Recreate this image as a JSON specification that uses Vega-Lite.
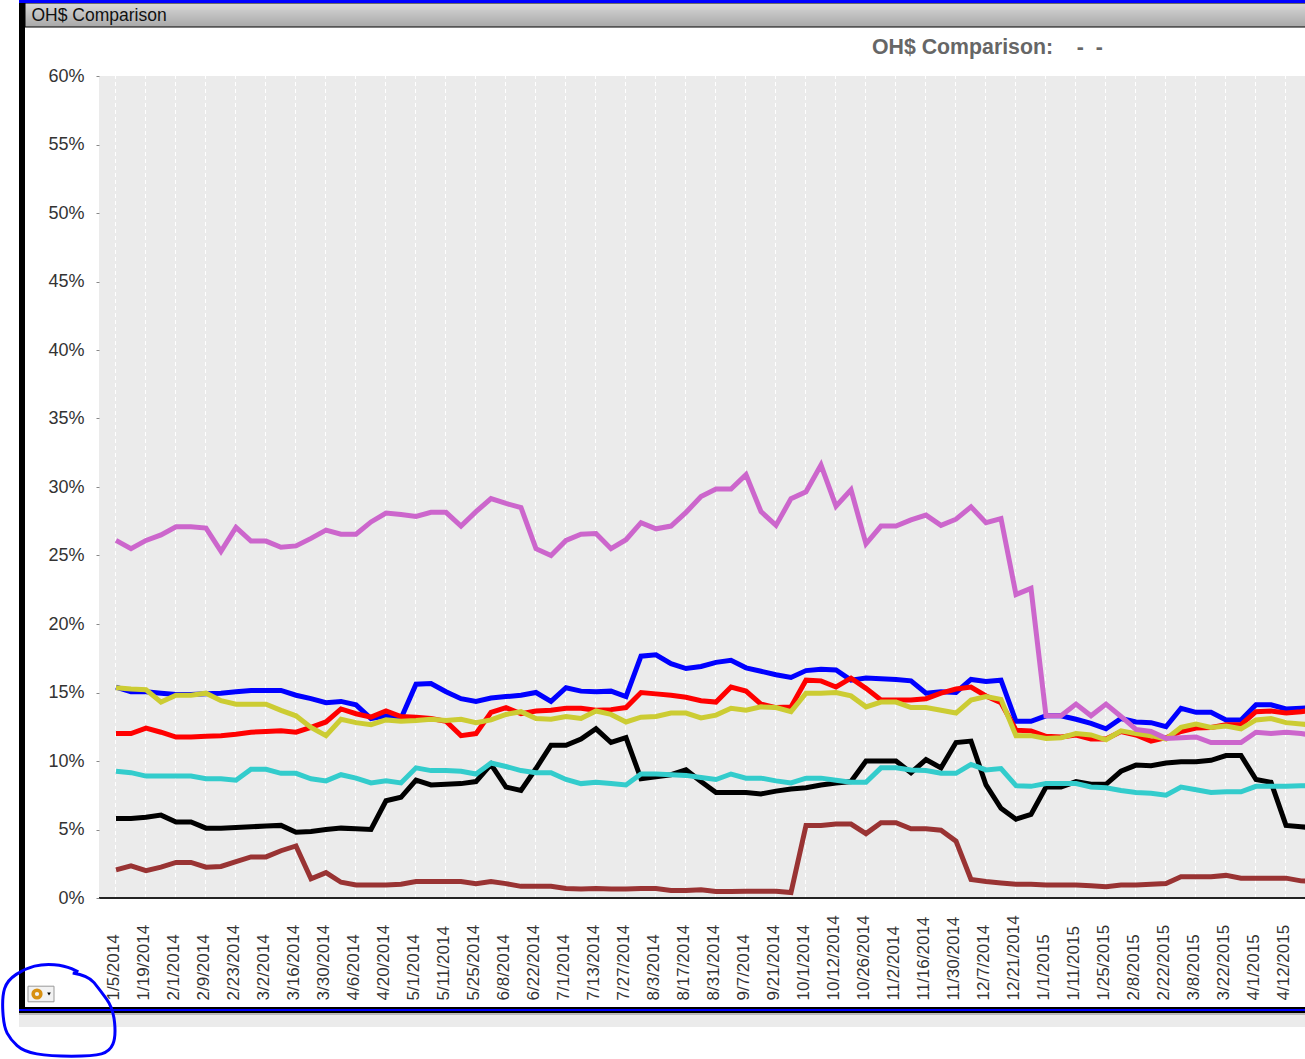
{
"$schema":"https://vega.github.io/schema/vega-lite/v6.json",
"autosize":{"type":"none"},
"padding":{"left":22,"top":27,"right":0,"bottom":49},
"width":1283,
"height":983,
"background":"white",
"view":{"stroke":null,"fill":"white"},
"title":{"text":"OH$ Comparison:\u00a0\u00a0\u00a0\u00a0-\u00a0\u00a0-","anchor":"start","frame":"group","dx":850,"dy":30,"offset":-28,"font":"Liberation Sans","fontSize":21.3,"fontWeight":"bold","color":"#666666"},
"datasets":{
"ends":[{"first":"1/5/2014","last":"4/26/2015","base":0,"top":60}],
"gridDates":[{"d":"1/5/2014"},{"d":"1/19/2014"},{"d":"2/1/2014"},{"d":"2/9/2014"},{"d":"2/23/2014"},{"d":"3/2/2014"},{"d":"3/16/2014"},{"d":"3/30/2014"},{"d":"4/6/2014"},{"d":"4/20/2014"},{"d":"5/1/2014"},{"d":"5/11/2014"},{"d":"5/25/2014"},{"d":"6/8/2014"},{"d":"6/22/2014"},{"d":"7/1/2014"},{"d":"7/13/2014"},{"d":"7/27/2014"},{"d":"8/3/2014"},{"d":"8/17/2014"},{"d":"8/31/2014"},{"d":"9/7/2014"},{"d":"9/21/2014"},{"d":"10/1/2014"},{"d":"10/12/2014"},{"d":"10/26/2014"},{"d":"11/2/2014"},{"d":"11/16/2014"},{"d":"11/30/2014"},{"d":"12/7/2014"},{"d":"12/21/2014"},{"d":"1/1/2015"},{"d":"1/11/2015"},{"d":"1/25/2015"},{"d":"2/8/2015"},{"d":"2/22/2015"},{"d":"3/8/2015"},{"d":"3/22/2015"},{"d":"4/1/2015"},{"d":"4/12/2015"},{"d":"4/26/2015"}],
"series":[
{"d":"1/5/2014","Black":5.8,"Brown":2.05,"Blue":15.4,"Red":12.0,"Teal":9.25,"Yellow":15.35,"Magenta":26.1},
{"d":"1/12/2014","Black":5.8,"Brown":2.35,"Blue":15.05,"Red":12.0,"Teal":9.15,"Yellow":15.25,"Magenta":25.5},
{"d":"1/19/2014","Black":5.9,"Brown":2.0,"Blue":15.05,"Red":12.4,"Teal":8.9,"Yellow":15.2,"Magenta":26.1},
{"d":"1/26/2014","Black":6.05,"Brown":2.25,"Blue":14.95,"Red":12.1,"Teal":8.9,"Yellow":14.3,"Magenta":26.5},
{"d":"2/1/2014","Black":5.55,"Brown":2.6,"Blue":14.85,"Red":11.75,"Teal":8.9,"Yellow":14.8,"Magenta":27.1},
{"d":"2/2/2014","Black":5.55,"Brown":2.6,"Blue":14.85,"Red":11.75,"Teal":8.9,"Yellow":14.8,"Magenta":27.1},
{"d":"2/9/2014","Black":5.1,"Brown":2.25,"Blue":14.9,"Red":11.8,"Teal":8.7,"Yellow":14.95,"Magenta":27.0},
{"d":"2/16/2014","Black":5.1,"Brown":2.3,"Blue":14.95,"Red":11.85,"Teal":8.7,"Yellow":14.4,"Magenta":25.3},
{"d":"2/23/2014","Black":5.15,"Brown":2.65,"Blue":15.05,"Red":11.95,"Teal":8.6,"Yellow":14.15,"Magenta":27.05},
{"d":"3/1/2014","Black":5.2,"Brown":3.0,"Blue":15.15,"Red":12.1,"Teal":9.4,"Yellow":14.15,"Magenta":26.05},
{"d":"3/2/2014","Black":5.25,"Brown":3.0,"Blue":15.15,"Red":12.15,"Teal":9.4,"Yellow":14.15,"Magenta":26.05},
{"d":"3/9/2014","Black":5.3,"Brown":3.45,"Blue":15.15,"Red":12.2,"Teal":9.1,"Yellow":13.7,"Magenta":25.6},
{"d":"3/16/2014","Black":4.8,"Brown":3.8,"Blue":14.8,"Red":12.1,"Teal":9.1,"Yellow":13.3,"Magenta":25.7},
{"d":"3/23/2014","Black":4.85,"Brown":1.4,"Blue":14.55,"Red":12.45,"Teal":8.7,"Yellow":12.45,"Magenta":26.25},
{"d":"3/30/2014","Black":5.0,"Brown":1.85,"Blue":14.25,"Red":12.85,"Teal":8.55,"Yellow":11.85,"Magenta":26.85},
{"d":"4/1/2014","Black":5.1,"Brown":1.15,"Blue":14.35,"Red":13.8,"Teal":9.0,"Yellow":13.05,"Magenta":26.55},
{"d":"4/6/2014","Black":5.05,"Brown":0.95,"Blue":14.1,"Red":13.45,"Teal":8.75,"Yellow":12.8,"Magenta":26.55},
{"d":"4/13/2014","Black":5.0,"Brown":0.95,"Blue":13.1,"Red":13.2,"Teal":8.4,"Yellow":12.65,"Magenta":27.45},
{"d":"4/20/2014","Black":7.1,"Brown":0.95,"Blue":13.3,"Red":13.65,"Teal":8.55,"Yellow":13.0,"Magenta":28.1},
{"d":"4/27/2014","Black":7.35,"Brown":1.0,"Blue":13.1,"Red":13.25,"Teal":8.4,"Yellow":12.9,"Magenta":28.0},
{"d":"5/1/2014","Black":8.6,"Brown":1.2,"Blue":15.6,"Red":13.2,"Teal":9.5,"Yellow":12.95,"Magenta":27.85},
{"d":"5/4/2014","Black":8.25,"Brown":1.2,"Blue":15.65,"Red":13.1,"Teal":9.3,"Yellow":13.05,"Magenta":28.15},
{"d":"5/11/2014","Black":8.3,"Brown":1.2,"Blue":15.05,"Red":12.9,"Teal":9.3,"Yellow":12.95,"Magenta":28.15},
{"d":"5/18/2014","Black":8.35,"Brown":1.2,"Blue":14.55,"Red":11.85,"Teal":9.25,"Yellow":13.05,"Magenta":27.15},
{"d":"5/25/2014","Black":8.5,"Brown":1.05,"Blue":14.35,"Red":12.0,"Teal":9.05,"Yellow":12.8,"Magenta":28.2},
{"d":"6/1/2014","Black":9.75,"Brown":1.2,"Blue":14.6,"Red":13.55,"Teal":9.85,"Yellow":13.0,"Magenta":29.15},
{"d":"6/8/2014","Black":8.1,"Brown":1.05,"Blue":14.7,"Red":13.9,"Teal":9.6,"Yellow":13.4,"Magenta":28.8},
{"d":"6/15/2014","Black":7.85,"Brown":0.85,"Blue":14.8,"Red":13.45,"Teal":9.3,"Yellow":13.6,"Magenta":28.5},
{"d":"6/22/2014","Black":9.45,"Brown":0.85,"Blue":15.0,"Red":13.65,"Teal":9.15,"Yellow":13.1,"Magenta":25.5},
{"d":"6/29/2014","Black":11.15,"Brown":0.85,"Blue":14.35,"Red":13.7,"Teal":9.15,"Yellow":13.05,"Magenta":25.0},
{"d":"7/1/2014","Black":11.15,"Brown":0.7,"Blue":15.35,"Red":13.85,"Teal":8.65,"Yellow":13.25,"Magenta":26.1},
{"d":"7/6/2014","Black":11.6,"Brown":0.65,"Blue":15.1,"Red":13.85,"Teal":8.35,"Yellow":13.1,"Magenta":26.55},
{"d":"7/13/2014","Black":12.35,"Brown":0.7,"Blue":15.05,"Red":13.7,"Teal":8.45,"Yellow":13.65,"Magenta":26.6},
{"d":"7/20/2014","Black":11.35,"Brown":0.65,"Blue":15.1,"Red":13.75,"Teal":8.35,"Yellow":13.4,"Magenta":25.5},
{"d":"7/27/2014","Black":11.7,"Brown":0.65,"Blue":14.7,"Red":13.9,"Teal":8.25,"Yellow":12.85,"Magenta":26.15},
{"d":"8/1/2014","Black":8.7,"Brown":0.7,"Blue":17.65,"Red":15.0,"Teal":9.05,"Yellow":13.2,"Magenta":27.4},
{"d":"8/3/2014","Black":8.85,"Brown":0.7,"Blue":17.75,"Red":14.9,"Teal":9.05,"Yellow":13.25,"Magenta":26.95},
{"d":"8/10/2014","Black":9.0,"Brown":0.55,"Blue":17.1,"Red":14.8,"Teal":9.0,"Yellow":13.5,"Magenta":27.15},
{"d":"8/17/2014","Black":9.35,"Brown":0.55,"Blue":16.75,"Red":14.65,"Teal":8.95,"Yellow":13.5,"Magenta":28.15},
{"d":"8/24/2014","Black":8.5,"Brown":0.6,"Blue":16.9,"Red":14.4,"Teal":8.8,"Yellow":13.15,"Magenta":29.3},
{"d":"8/31/2014","Black":7.7,"Brown":0.47,"Blue":17.2,"Red":14.3,"Teal":8.65,"Yellow":13.35,"Magenta":29.85},
{"d":"9/1/2014","Black":7.7,"Brown":0.47,"Blue":17.35,"Red":15.4,"Teal":9.05,"Yellow":13.85,"Magenta":29.85},
{"d":"9/7/2014","Black":7.7,"Brown":0.5,"Blue":16.8,"Red":15.1,"Teal":8.75,"Yellow":13.7,"Magenta":30.9},
{"d":"9/14/2014","Black":7.6,"Brown":0.5,"Blue":16.55,"Red":14.15,"Teal":8.75,"Yellow":13.95,"Magenta":28.2},
{"d":"9/21/2014","Black":7.8,"Brown":0.5,"Blue":16.3,"Red":13.9,"Teal":8.55,"Yellow":13.9,"Magenta":27.2},
{"d":"9/28/2014","Black":7.95,"Brown":0.4,"Blue":16.1,"Red":13.95,"Teal":8.4,"Yellow":13.6,"Magenta":29.15},
{"d":"10/1/2014","Black":8.05,"Brown":5.3,"Blue":16.6,"Red":15.9,"Teal":8.75,"Yellow":14.95,"Magenta":29.65},
{"d":"10/5/2014","Black":8.25,"Brown":5.3,"Blue":16.7,"Red":15.85,"Teal":8.75,"Yellow":14.95,"Magenta":31.6},
{"d":"10/12/2014","Black":8.4,"Brown":5.4,"Blue":16.65,"Red":15.4,"Teal":8.6,"Yellow":15.0,"Magenta":28.6},
{"d":"10/19/2014","Black":8.5,"Brown":5.4,"Blue":15.9,"Red":16.05,"Teal":8.45,"Yellow":14.75,"Magenta":29.8},
{"d":"10/26/2014","Black":10.0,"Brown":4.7,"Blue":16.05,"Red":15.3,"Teal":8.45,"Yellow":13.95,"Magenta":25.85},
{"d":"11/1/2014","Black":10.0,"Brown":5.5,"Blue":16.0,"Red":14.45,"Teal":9.5,"Yellow":14.3,"Magenta":27.15},
{"d":"11/2/2014","Black":10.0,"Brown":5.5,"Blue":15.95,"Red":14.45,"Teal":9.5,"Yellow":14.3,"Magenta":27.15},
{"d":"11/9/2014","Black":9.15,"Brown":5.05,"Blue":15.85,"Red":14.45,"Teal":9.35,"Yellow":13.9,"Magenta":27.6},
{"d":"11/16/2014","Black":10.1,"Brown":5.05,"Blue":14.95,"Red":14.55,"Teal":9.3,"Yellow":13.9,"Magenta":27.95},
{"d":"11/23/2014","Black":9.5,"Brown":4.95,"Blue":15.05,"Red":14.95,"Teal":9.1,"Yellow":13.7,"Magenta":27.2},
{"d":"11/30/2014","Black":11.35,"Brown":4.15,"Blue":15.0,"Red":15.25,"Teal":9.1,"Yellow":13.5,"Magenta":27.65},
{"d":"12/1/2014","Black":11.45,"Brown":1.35,"Blue":15.95,"Red":15.4,"Teal":9.75,"Yellow":14.45,"Magenta":28.55},
{"d":"12/7/2014","Black":8.25,"Brown":1.2,"Blue":15.8,"Red":14.75,"Teal":9.35,"Yellow":14.7,"Magenta":27.4},
{"d":"12/14/2014","Black":6.55,"Brown":1.1,"Blue":15.9,"Red":14.25,"Teal":9.45,"Yellow":14.5,"Magenta":27.7},
{"d":"12/21/2014","Black":5.75,"Brown":1.0,"Blue":12.9,"Red":12.25,"Teal":8.2,"Yellow":11.85,"Magenta":22.15},
{"d":"12/28/2014","Black":6.1,"Brown":1.0,"Blue":12.9,"Red":12.2,"Teal":8.15,"Yellow":11.85,"Magenta":22.6},
{"d":"1/1/2015","Black":8.1,"Brown":0.95,"Blue":13.3,"Red":11.8,"Teal":8.35,"Yellow":11.65,"Magenta":13.3},
{"d":"1/4/2015","Black":8.1,"Brown":0.95,"Blue":13.3,"Red":11.75,"Teal":8.35,"Yellow":11.7,"Magenta":13.3},
{"d":"1/11/2015","Black":8.5,"Brown":0.95,"Blue":13.05,"Red":11.9,"Teal":8.35,"Yellow":12.0,"Magenta":14.15},
{"d":"1/18/2015","Black":8.3,"Brown":0.9,"Blue":12.75,"Red":11.6,"Teal":8.1,"Yellow":11.9,"Magenta":13.3},
{"d":"1/25/2015","Black":8.3,"Brown":0.83,"Blue":12.35,"Red":11.6,"Teal":8.05,"Yellow":11.55,"Magenta":14.15},
{"d":"2/1/2015","Black":9.25,"Brown":0.95,"Blue":13.1,"Red":12.15,"Teal":7.85,"Yellow":12.2,"Magenta":13.25},
{"d":"2/8/2015","Black":9.7,"Brown":0.95,"Blue":12.85,"Red":11.9,"Teal":7.7,"Yellow":12.0,"Magenta":12.3},
{"d":"2/15/2015","Black":9.65,"Brown":1.0,"Blue":12.8,"Red":11.45,"Teal":7.65,"Yellow":11.85,"Magenta":12.15},
{"d":"2/22/2015","Black":9.85,"Brown":1.05,"Blue":12.5,"Red":11.7,"Teal":7.5,"Yellow":11.6,"Magenta":11.65},
{"d":"3/1/2015","Black":9.95,"Brown":1.55,"Blue":13.85,"Red":12.15,"Teal":8.1,"Yellow":12.45,"Magenta":11.7},
{"d":"3/8/2015","Black":9.95,"Brown":1.55,"Blue":13.55,"Red":12.4,"Teal":7.9,"Yellow":12.7,"Magenta":11.75},
{"d":"3/15/2015","Black":10.05,"Brown":1.55,"Blue":13.55,"Red":12.45,"Teal":7.7,"Yellow":12.45,"Magenta":11.35},
{"d":"3/22/2015","Black":10.4,"Brown":1.65,"Blue":13.0,"Red":12.65,"Teal":7.75,"Yellow":12.55,"Magenta":11.35},
{"d":"3/29/2015","Black":10.4,"Brown":1.45,"Blue":13.0,"Red":12.65,"Teal":7.75,"Yellow":12.35,"Magenta":11.35},
{"d":"4/1/2015","Black":8.65,"Brown":1.45,"Blue":14.1,"Red":13.6,"Teal":8.15,"Yellow":13.0,"Magenta":12.1},
{"d":"4/5/2015","Black":8.45,"Brown":1.45,"Blue":14.1,"Red":13.65,"Teal":8.15,"Yellow":13.1,"Magenta":12.0},
{"d":"4/12/2015","Black":5.3,"Brown":1.45,"Blue":13.8,"Red":13.5,"Teal":8.15,"Yellow":12.8,"Magenta":12.1},
{"d":"4/19/2015","Black":5.2,"Brown":1.25,"Blue":13.85,"Red":13.6,"Teal":8.2,"Yellow":12.7,"Magenta":12.0},
{"d":"4/26/2015","Black":5.1,"Brown":1.2,"Blue":13.9,"Red":13.75,"Teal":8.2,"Yellow":12.6,"Magenta":11.85}
]},
"encoding":{
"x":{"field":"d","type":"ordinal","sort":null,
 "scale":{"type":"point","padding":0,"range":[94,1294],"domain":["1/5/2014","1/12/2014","1/19/2014","1/26/2014","2/1/2014","2/2/2014","2/9/2014","2/16/2014","2/23/2014","3/1/2014","3/2/2014","3/9/2014","3/16/2014","3/23/2014","3/30/2014","4/1/2014","4/6/2014","4/13/2014","4/20/2014","4/27/2014","5/1/2014","5/4/2014","5/11/2014","5/18/2014","5/25/2014","6/1/2014","6/8/2014","6/15/2014","6/22/2014","6/29/2014","7/1/2014","7/6/2014","7/13/2014","7/20/2014","7/27/2014","8/1/2014","8/3/2014","8/10/2014","8/17/2014","8/24/2014","8/31/2014","9/1/2014","9/7/2014","9/14/2014","9/21/2014","9/28/2014","10/1/2014","10/5/2014","10/12/2014","10/19/2014","10/26/2014","11/1/2014","11/2/2014","11/9/2014","11/16/2014","11/23/2014","11/30/2014","12/1/2014","12/7/2014","12/14/2014","12/21/2014","12/28/2014","1/1/2015","1/4/2015","1/11/2015","1/18/2015","1/25/2015","2/1/2015","2/8/2015","2/15/2015","2/22/2015","3/1/2015","3/8/2015","3/15/2015","3/22/2015","3/29/2015","4/1/2015","4/5/2015","4/12/2015","4/19/2015","4/26/2015"]},
 "axis":{"title":"OH$ Comparison","titleX":9,"titleY":-1004,"titleAlign":"left","titleAngle":0,"titleFont":"Liberation Sans","titleFontSize":17.5,"titleFontWeight":"normal","titleColor":"#111111",
  "zindex":2,"domain":false,"ticks":false,"grid":false,"tickSize":0,
  "values":["1/5/2014","1/19/2014","2/1/2014","2/9/2014","2/23/2014","3/2/2014","3/16/2014","3/30/2014","4/6/2014","4/20/2014","5/1/2014","5/11/2014","5/25/2014","6/8/2014","6/22/2014","7/1/2014","7/13/2014","7/27/2014","8/3/2014","8/17/2014","8/31/2014","9/7/2014","9/21/2014","10/1/2014","10/12/2014","10/26/2014","11/2/2014","11/16/2014","11/30/2014","12/7/2014","12/21/2014","1/1/2015","1/11/2015","1/25/2015","2/8/2015","2/22/2015","3/8/2015","3/22/2015","4/1/2015","4/12/2015","4/26/2015"],
  "labelAngle":-90,"labelAlign":"left","labelBaseline":"middle","labelPadding":-10,"labelOffset":-3,"labelOverlap":false,"labelBound":false,"labelFlush":false,"labelFont":"Liberation Sans","labelFontSize":17,"labelColor":"#333333"}}
},
"layer":[
{"data":{"name":"ends"},"mark":{"type":"rect","fill":"#ebebeb","xOffset":-17},
 "encoding":{"x":{"field":"first","type":"ordinal"},"x2":{"field":"last"},
  "y":{"field":"base","type":"quantitative"},"y2":{"field":"top"}}},
{"data":{"name":"gridDates"},"mark":{"type":"rule","color":"#ffffff","strokeWidth":1,"strokeDash":[4,3],"xOffset":-0.5},
 "encoding":{"x":{"field":"d","type":"ordinal"},"y":{"datum":0,"type":"quantitative"},"y2":{"datum":60}}},
{"data":{"name":"ends"},"mark":{"type":"rect","fill":"#222222","height":2,"xOffset":-17},
 "encoding":{"x":{"field":"first","type":"ordinal"},"x2":{"field":"last"},"y":{"field":"base","type":"quantitative"}}},
{"data":{"name":"series"},
 "transform":[{"fold":["Black","Brown","Blue","Red","Teal","Yellow","Magenta"],"as":["series","value"]}],
 "mark":{"type":"line","strokeWidth":5,"clip":false},
 "encoding":{
  "y":{"field":"value","type":"quantitative",
   "scale":{"domain":[0,60],"range":[871,49]},
   "axis":{"title":null,"offset":-77,"zindex":2,"domain":false,"grid":false,"values":[0,5,10,15,20,25,30,35,40,45,50,55,60],"labelExpr":"datum.value + '%'","tickSize":3,"tickColor":"#888888","labelPadding":12,"labelFont":"Liberation Sans","labelFontSize":18,"labelColor":"#333333"}},
  "color":{"field":"series","type":"nominal","sort":null,"legend":null,
   "scale":{"domain":["Black","Brown","Blue","Red","Teal","Yellow","Magenta"],"range":["#000000","#993333","#0000ff","#ff0000","#33cccc","#cccc33","#cc66cc"]}}}},
{"data":{"name":"ends"},"mark":{"type":"rect","stroke":"#000000","strokeWidth":1,"xOffset":-91,"yOffset":-73,"y2Offset":-49,"fill":{"x1":0,"y1":0,"x2":0,"y2":1,"gradient":"linear","stops":[{"offset":0,"color":"#d8d8d8"},{"offset":1,"color":"#a8a8a8"}]}},
 "encoding":{"x":{"field":"first","type":"ordinal"},"x2":{"field":"last"},"y":{"field":"top","type":"quantitative"},"y2":{"field":"top"}}},
{"data":{"name":"ends"},"mark":{"type":"rect","fill":"#000000","xOffset":-97,"x2Offset":-91,"yOffset":-76,"y2Offset":115},
 "encoding":{"x":{"field":"first","type":"ordinal"},"x2":{"field":"first"},"y":{"field":"top","type":"quantitative"},"y2":{"field":"base"}}},
{"data":{"name":"ends"},"mark":{"type":"rect","fill":"#000000","xOffset":-97,"yOffset":109,"y2Offset":115},
 "encoding":{"x":{"field":"first","type":"ordinal"},"x2":{"field":"last"},"y":{"field":"base","type":"quantitative"},"y2":{"field":"base"}}},
{"data":{"name":"ends"},"mark":{"type":"rect","fill":"#0000ff","xOffset":-97,"yOffset":-76,"y2Offset":-73},
 "encoding":{"x":{"field":"first","type":"ordinal"},"x2":{"field":"last"},"y":{"field":"top","type":"quantitative"},"y2":{"field":"top"}}},
{"data":{"name":"ends"},"mark":{"type":"rect","fill":"#0000ff","xOffset":-97,"yOffset":111,"y2Offset":113},
 "encoding":{"x":{"field":"first","type":"ordinal"},"x2":{"field":"last"},"y":{"field":"base","type":"quantitative"},"y2":{"field":"base"}}},
{"data":{"name":"ends"},"mark":{"type":"rect","fill":"#ebebeb","xOffset":-97,"yOffset":117,"y2Offset":129},
 "encoding":{"x":{"field":"first","type":"ordinal"},"x2":{"field":"last"},"y":{"field":"base","type":"quantitative"},"y2":{"field":"base"}}},
{"data":{"name":"ends"},"mark":{"type":"rect","fill":"#bbbbbb","xOffset":-97,"yOffset":115,"y2Offset":117},
 "encoding":{"x":{"field":"first","type":"ordinal"},"x2":{"field":"last"},"y":{"field":"base","type":"quantitative"},"y2":{"field":"base"}}},
{"data":{"name":"ends"},"mark":{"type":"point","shape":"M-1,-0.6H1V0.6H-1Z","size":676,"filled":true,"fill":"#f2f2f2","stroke":"#999999","strokeWidth":1,"opacity":1,"xOffset":-75,"yOffset":96},
 "encoding":{"x":{"field":"first","type":"ordinal"},"y":{"field":"base","type":"quantitative"}}},
{"data":{"name":"ends"},"mark":{"type":"point","shape":"circle","size":60,"filled":false,"stroke":"#d89010","strokeWidth":3.5,"opacity":1,"xOffset":-79,"yOffset":96},
 "encoding":{"x":{"field":"first","type":"ordinal"},"y":{"field":"base","type":"quantitative"}}},
{"data":{"name":"ends"},"mark":{"type":"point","shape":"triangle-down","size":14,"filled":true,"fill":"#000000","stroke":null,"opacity":1,"xOffset":-67,"yOffset":96},
 "encoding":{"x":{"field":"first","type":"ordinal"},"y":{"field":"base","type":"quantitative"}}},
{"data":{"name":"ends"},"mark":{"type":"point","shape":"M.24,-.65Q.51,-.61,.615,-.48Q.72,-.35,.835,-.19Q.95,-.03,.975,.22Q1,.47,.945,.6Q.89,.73,.745,.77Q.6,.81,.22,.81Q-.16,.81,-.39,.77Q-.62,.73,-.735,.625Q-.85,.52,-.91,.405Q-.97,.29,-.985,.03Q-1,-.23,-.955,-.375Q-.91,-.52,-.75,-.625Q-.59,-.73,-.43,-.77Q-.27,-.81,-.085,-.795Q.1,-.78,.22,-.725L.34,-.67","size":12996,"filled":false,"stroke":"#0000ff","strokeWidth":3,"opacity":1,"xOffset":-57,"yOffset":112},
 "encoding":{"x":{"field":"first","type":"ordinal"},"y":{"field":"base","type":"quantitative"}}}
]
}
